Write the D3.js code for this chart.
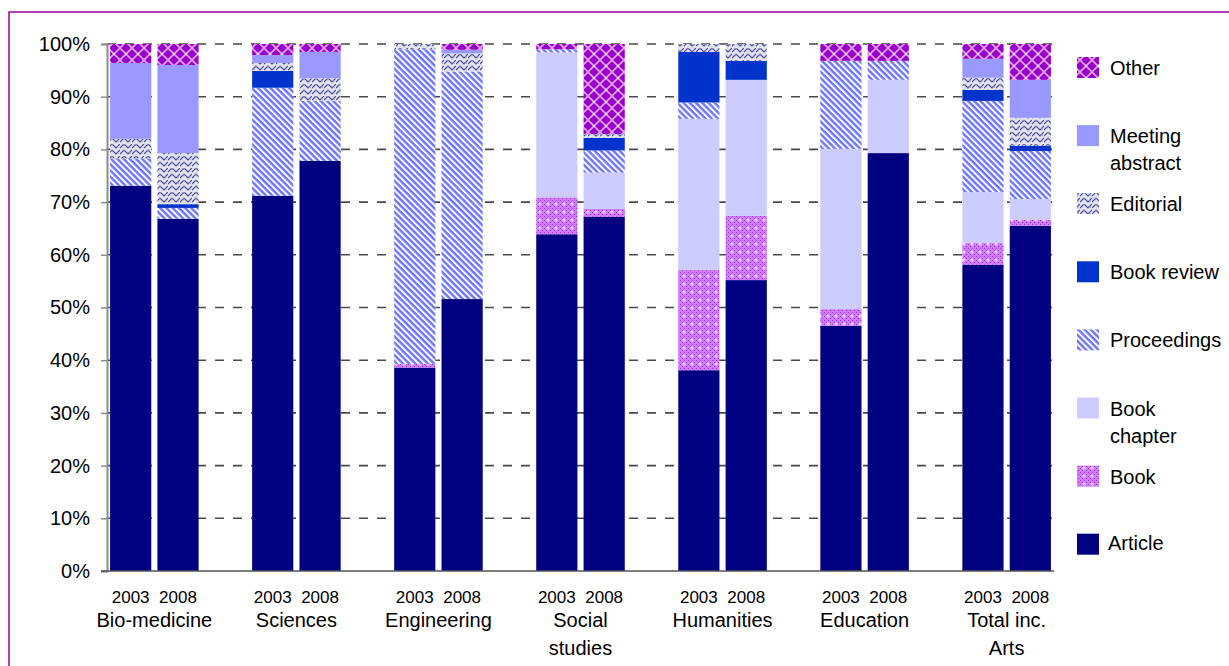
<!DOCTYPE html>
<html>
<head>
<meta charset="utf-8">
<script src="https://cdn.jsdelivr.net/npm/d3@7"></script>
<style>
  html, body { margin: 0; padding: 0; background: #fff; }
  svg { display: block; font-family: "Liberation Sans", Arial, sans-serif; }
</style>
</head>
<body>
<svg id="chart" width="1229" height="666"></svg>
<script>
// Subject areas and the two sample years
const categories = [["Bio-medicine"], ["Sciences"], ["Engineering"], ["Social", "studies"],
                    ["Humanities"], ["Education"], ["Total inc.", "Arts"]];
const years = ["2003", "2008"];
const yTicks = [0, 10, 20, 30, 40, 50, 60, 70, 80, 90, 100];

// Share of publications by type (%), bars ordered category by category, 2003 then 2008
const article         = [73.1, 66.8, 71.2, 77.8, 38.6, 51.6, 63.9, 67.2, 38.1, 55.2, 46.5, 79.3, 58.1, 65.5];
const book            = [0, 0, 0, 0, 0.7, 0, 7.0, 1.5, 19.0, 12.2, 3.2, 0, 4.2, 1.2];
const bookChapter     = [0, 0, 0, 0, 0, 0, 27.5, 6.9, 28.7, 25.8, 30.4, 13.9, 9.6, 3.9];
const proceedings     = [5.2, 2.1, 20.5, 11.4, 59.7, 43.2, 0.6, 4.2, 3.1, 0, 16.7, 3.6, 17.3, 9.1];
const bookReview      = [0, 0.7, 3.2, 0, 0, 0, 0, 2.4, 9.6, 3.6, 0, 0, 2.1, 1.0];
const editorial       = [3.7, 9.7, 1.5, 4.3, 1.0, 3.4, 0, 0.7, 1.5, 3.2, 0, 0, 2.3, 5.3];
const meetingAbstract = [14.4, 16.7, 1.5, 5.0, 0, 0.7, 0, 0, 0, 0, 0, 0, 3.6, 7.2];
const other           = [3.6, 4.0, 2.1, 1.5, 0, 1.1, 1.0, 17.1, 0, 0, 3.2, 3.2, 2.8, 6.8];

// Stacking order, bottom to top
const seriesNames = ["Article", "Book", "Book chapter", "Proceedings", "Book review",
                     "Editorial", "Meeting abstract", "Other"];
const seriesValues = [article, book, bookChapter, proceedings, bookReview,
                      editorial, meetingAbstract, other];
const legendLines = {
  "Other": ["Other"], "Meeting abstract": ["Meeting", "abstract"], "Editorial": ["Editorial"],
  "Book review": ["Book review"], "Proceedings": ["Proceedings"], "Book chapter": ["Book", "chapter"],
  "Book": ["Book"], "Article": ["Article"]
};

const svg = d3.select("#chart");
const defs = svg.append("defs");

// ---- fills ----
function pat(id, w, h, bg, transform) {
  const p = defs.append("pattern").attr("id", id).attr("patternUnits", "userSpaceOnUse")
    .attr("width", w).attr("height", h);
  if (transform) p.attr("patternTransform", transform);
  if (bg) p.append("rect").attr("width", w).attr("height", h).attr("fill", bg);
  return p;
}
// Other: purple with a pale diamond lattice
{
  const p = pat("pOther", 12, 12, "#9900cc");
  p.append("path").attr("d", "M0,0 L12,12 M12,0 L0,12").attr("stroke", "#e6a6f2").attr("stroke-width", 1.6).attr("fill", "none");
  p.append("rect").attr("x", 5).attr("y", 5).attr("width", 2).attr("height", 2).attr("fill", "#fbe8ff");
}
// Editorial: light grey weave in navy
{
  const p = pat("pEditorial", 12, 12, "#e2e2ea");
  p.append("path").attr("d", "M0,4 L4,0 L8,4 L12,0 M0,10 L4,6 L8,10 L12,6")
    .attr("stroke", "#4a4aa0").attr("stroke-width", 1.2).attr("fill", "none");
  p.append("path").attr("d", "M4,0 L4,2 M4,6 L4,8 M10,2 L10,4 M10,8 L10,10")
    .attr("stroke", "#9a9acc").attr("stroke-width", 1).attr("fill", "none");
}
// Proceedings: white with fine blue back-diagonal stripes
{
  const p = pat("pProc", 4.4, 4.4, "#ffffff", "rotate(-45)");
  p.append("rect").attr("x", 0).attr("width", 1.2).attr("height", 4.4).attr("fill", "#9292ff");
  p.append("rect").attr("x", 1.2).attr("width", 1.2).attr("height", 4.4).attr("fill", "#3342ff");
}
// Book: violet fine checker with small white crosses
{
  const p = pat("pBook", 8, 8, "#d07cff");
  for (let i = 0; i < 8; i += 2) for (let j = 0; j < 8; j += 2) {
    if (((i + j) / 2) % 2 === 0) p.append("rect").attr("x", i).attr("y", j).attr("width", 1).attr("height", 1).attr("fill", "#9a2ee8");
  }
  p.append("path").attr("d", "M4,2.5 L4,5.5 M2.5,4 L5.5,4").attr("stroke", "#ffffff").attr("stroke-width", 1);
}

const fills = {
  "Article": "#000080",
  "Book": "url(#pBook)",
  "Book chapter": "#ccccff",
  "Proceedings": "url(#pProc)",
  "Book review": "#0033cc",
  "Editorial": "url(#pEditorial)",
  "Meeting abstract": "#9999ff",
  "Other": "url(#pOther)"
};

// ---- outer frame ----
svg.append("rect").attr("x", 9).attr("y", 12).attr("width", 1240).attr("height", 700)
  .attr("fill", "none").attr("stroke", "#990099").attr("stroke-width", 1.5);

// ---- scales ----
const plotLeft = 107, plotRight = 1054, plotTop = 44, plotBottom = 571;
const slots = [];
categories.forEach((c, i) => {
  years.forEach(yr => slots.push(i + "|" + yr));
  if (i < categories.length - 1) slots.push("gap" + i);
});
const x = d3.scaleBand().domain(slots).range([plotLeft, plotRight]).paddingInner(0.13).paddingOuter(0.065);
const y = d3.scaleLinear().domain([0, 100]).range([plotBottom, plotTop]);

// ---- gridlines ----
svg.append("g").selectAll("line").data(yTicks.filter(t => t > 0)).join("line")
  .attr("x1", plotLeft).attr("x2", plotRight)
  .attr("y1", d => y(d)).attr("y2", d => y(d))
  .attr("stroke", "#4a4a4a").attr("stroke-width", 1.6).attr("stroke-dasharray", "9,9");

// ---- stacked bars ----
const rows = [];
categories.forEach((c, i) => years.forEach((yr, j) => {
  const k = i * years.length + j;
  const row = { slot: i + "|" + yr };
  seriesNames.forEach((s, si) => { row[s] = seriesValues[si][k]; });
  rows.push(row);
}));
const stacked = d3.stack().keys(seriesNames)(rows);
svg.append("g").selectAll("g").data(stacked).join("g")
  .attr("fill", d => fills[d.key])
  .selectAll("rect").data(d => d.filter(p => p[1] - p[0] > 0)).join("rect")
  .attr("x", d => x(d.data.slot))
  .attr("width", x.bandwidth())
  .attr("y", d => y(d[1]))
  .attr("height", d => y(d[0]) - y(d[1]));

// ---- y axis ----
const yAxis = d3.axisLeft(y).tickValues(yTicks).tickFormat(d => d + "%").tickSize(6).tickPadding(11);
const ya = svg.append("g").attr("transform", `translate(${plotLeft},0)`).call(yAxis);
ya.select(".domain").attr("stroke", "#8c8c8c").attr("stroke-width", 2);
ya.selectAll(".tick line").attr("stroke", "#8c8c8c").attr("stroke-width", 1.5);
ya.selectAll(".tick text").attr("fill", "#000").style("font-size", "20px")
  .style("font-family", "'Liberation Sans', Arial, sans-serif");

// baseline
svg.append("line").attr("x1", plotLeft - 6).attr("x2", plotRight)
  .attr("y1", plotBottom).attr("y2", plotBottom).attr("stroke", "#555").attr("stroke-width", 1.5);

// ---- x labels ----
const xl = svg.append("g");
rows.forEach(r => {
  xl.append("text").attr("x", x(r.slot) + x.bandwidth() / 2).attr("y", 603)
    .attr("text-anchor", "middle").style("font-size", "17px").text(r.slot.split("|")[1]);
});
categories.forEach((c, i) => {
  const cx = (x(i + "|" + years[0]) + x(i + "|" + years[1]) + x.bandwidth()) / 2;
  c.forEach((line, li) => {
    xl.append("text").attr("x", cx).attr("y", 627 + li * 28)
      .attr("text-anchor", "middle").style("font-size", "20px").text(line);
  });
});

// ---- legend ----
const legendOrder = seriesNames.slice().reverse();
const lg = svg.append("g");
legendOrder.forEach((s, i) => {
  const top = 57 + i * 68.1;
  lg.append("rect").attr("x", 1077).attr("y", top).attr("width", 22).attr("height", 21).attr("fill", fills[s]);
  const lines = legendLines[s];
  const ty = s === "Article" ? top + 16 : top + 18;
  lines.forEach((t, li) => {
    lg.append("text").attr("x", s === "Article" ? 1108 : 1110).attr("y", ty + li * 27)
      .style("font-size", "20px").text(t);
  });
});
</script>
</body>
</html>
